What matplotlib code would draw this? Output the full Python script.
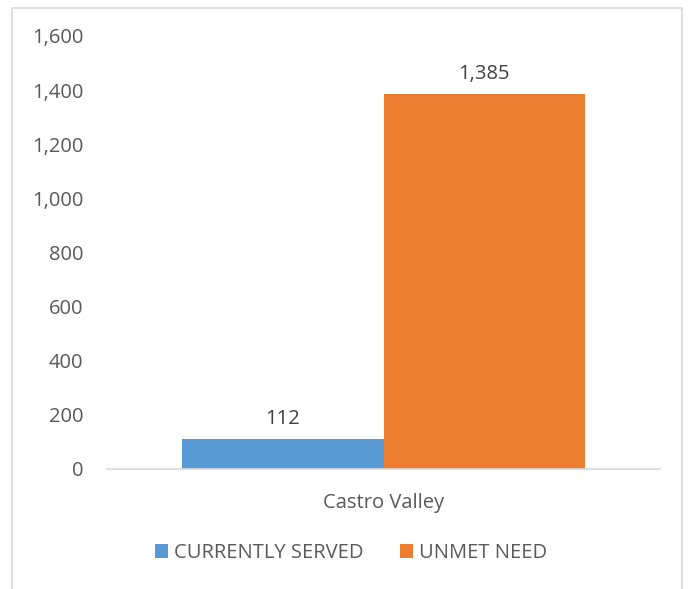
import matplotlib.pyplot as plt
import matplotlib.patches as mpatches

categories = ['Castro Valley']
series_names = ['CURRENTLY SERVED', 'UNMET NEED']
series_values = [112, 1385]
colors = ['#5B9BD5', '#ED7D31']
yticks = [0, 200, 400, 600, 800, 1000, 1200, 1400, 1600]

plt.rcParams['font.family'] = ['Open Sans', 'DejaVu Sans']
text_col = '#595959'
fs = 14.5

fig = plt.figure(figsize=(6.91, 5.89), dpi=100)
# chart border
fig.patches.append(mpatches.Rectangle((12 / 691, -0.1), 670 / 691, 1.1 - 8 / 589,
                                      transform=fig.transFigure, fill=False,
                                      edgecolor='#D9D9D9', linewidth=1.2))

ax = fig.add_axes([107 / 691, 1 - 469 / 589, 553 / 691, 433 / 589])
w = 0.364
offs = [-w / 2, w / 2]
for i, (name, v) in enumerate(zip(series_names, series_values)):
    b = ax.bar(0 + offs[i], v, width=w, color=colors[i], label=name)
    ax.bar_label(b, labels=[f'{v:,}'], padding=7, fontsize=fs, color='#404040')

ax.set_xlim(-0.5, 0.5)
ax.set_ylim(0, 1600)
ax.set_yticks(yticks)
ax.set_yticklabels([f'{t:,}' for t in yticks], fontsize=fs, color=text_col)
ax.set_xticks([0])
ax.set_xticklabels(categories, fontsize=fs, color=text_col)
ax.tick_params(axis='both', length=0)
ax.tick_params(axis='y', pad=17)
ax.tick_params(axis='x', pad=17)
for s in ['top', 'right', 'left']:
    ax.spines[s].set_visible(False)
ax.spines['bottom'].set_color('#D9D9D9')
ax.spines['bottom'].set_linewidth(1.2)

ax.legend(loc='center', bbox_to_anchor=(351 / 691, 1 - 553 / 589), bbox_transform=fig.transFigure,
          ncol=2, frameon=False, fontsize=fs, labelcolor=text_col,
          handlelength=0.65, handleheight=0.65, columnspacing=1.8, handletextpad=0.3)

fig.savefig('out.png', dpi=100)
